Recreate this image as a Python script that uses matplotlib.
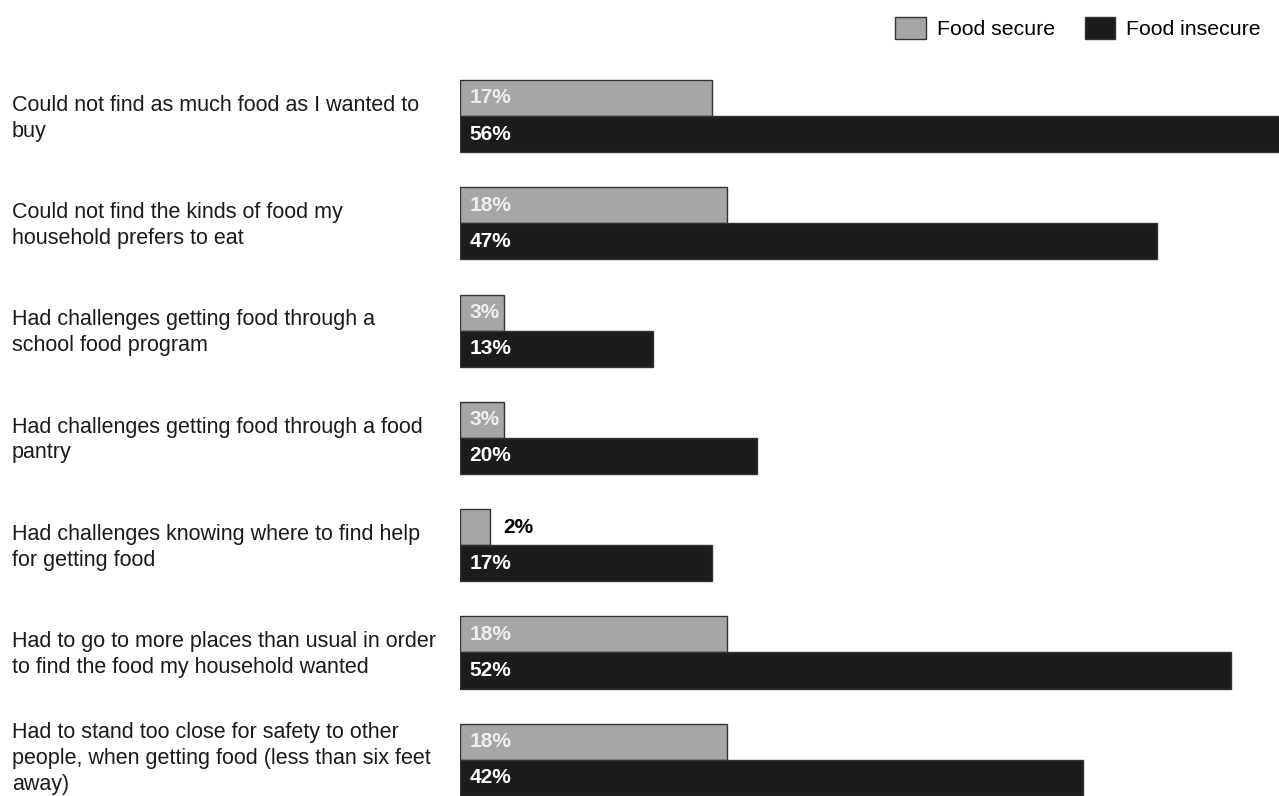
import numpy as np
import matplotlib.pyplot as plt
from matplotlib.transforms import blended_transform_factory

#data
categories = [
    "Could not find as much food as I wanted to\nbuy",
    "Could not find the kinds of food my\nhousehold prefers to eat",
    "Had challenges getting food through a\nschool food program",
    "Had challenges getting food through a food\npantry",
    "Had challenges knowing where to find help\nfor getting food",
    "Had to go to more places than usual in order\nto find the food my household wanted",
    "Had to stand too close for safety to other\npeople, when getting food (less than six feet\naway)",
]
food_secure = [17, 18, 3, 3, 2, 18, 18]
food_insecure = [56, 47, 13, 20, 17, 52, 42]

#style
plt.rcParams["font.family"] = ["Liberation Sans", "DejaVu Sans"]
gray = "#a6a6a6"
dark = "#1c1c1c"
h = 0.336

fig = plt.figure(figsize=(12.79, 7.96), dpi=100)
ax = fig.add_axes([460 / 1279, 0, 1 - 460 / 1279, 1])

y = np.arange(len(categories))
b1 = ax.barh(y - h / 2, food_secure, height=h, color=gray, edgecolor="#333333",
             linewidth=1, label="Food secure")
b2 = ax.barh(y + h / 2, food_insecure, height=h, color=dark, edgecolor="#333333",
             linewidth=1, label="Food insecure")

ax.set_xlim(0, 819 / 14.83)
ax.set_ylim((796 - 116) / 107.3, -116 / 107.3)
ax.axis("off")

#value labels
for i in range(len(categories)):
    if food_secure[i] < 3:
        ax.annotate(f"{food_secure[i]}%", (food_secure[i], y[i] - h / 2),
                    xytext=(10, 0), textcoords="offset points", va="center",
                    ha="left", fontsize=15, fontweight="bold", color="black")
    else:
        ax.annotate(f"{food_secure[i]}%", (0, y[i] - h / 2),
                    xytext=(7, 0), textcoords="offset points", va="center",
                    ha="left", fontsize=15, fontweight="bold", color="#eeeeee")
    ax.annotate(f"{food_insecure[i]}%", (0, y[i] + h / 2),
                xytext=(7, 0), textcoords="offset points", va="center",
                ha="left", fontsize=15, fontweight="bold", color="white")

#category labels
trans = blended_transform_factory(fig.transFigure, ax.transData)
for i, c in enumerate(categories):
    lines = c.count("\n") + 1
    shift = 0.02 if lines < 3 else -0.01
    ax.text(12 / 1279, y[i] + shift, c, transform=trans, ha="left", va="center",
            fontsize=15.5, color="#1a1a1a", linespacing=1.3, clip_on=False)

fig.legend(handles=[b1, b2], loc="upper right", bbox_to_anchor=(0.999, 1.0),
           ncol=2, frameon=False, fontsize=15.3, handlelength=1.45,
           handleheight=1.25, columnspacing=1.4, handletextpad=0.5,
           borderaxespad=0.4)

fig.savefig("out.png", dpi=100)
